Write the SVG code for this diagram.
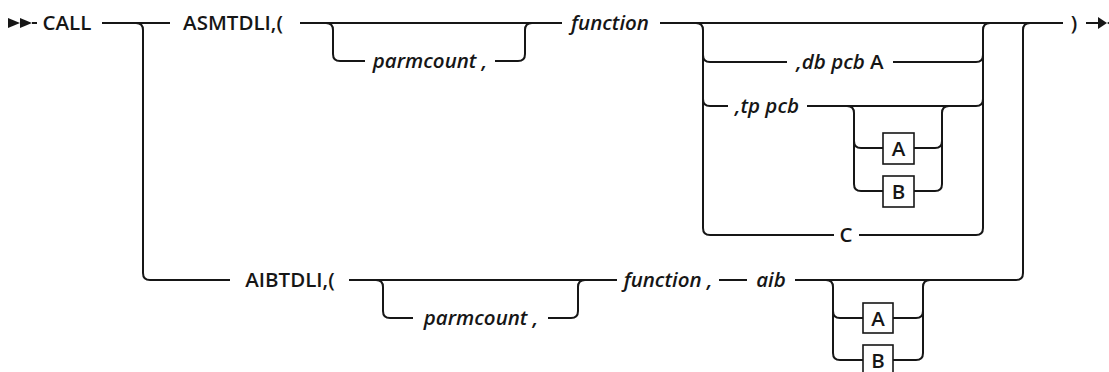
<svg xmlns="http://www.w3.org/2000/svg" width="1109" height="372" viewBox="0 0 1109 372">
<style>
.t{font-family:"Open Sans","Liberation Sans",sans-serif;font-size:20.5px;font-weight:600;fill:#161616;text-anchor:middle}
.i{font-style:italic}
.n{font-style:normal}
.c path{fill:none;stroke:#161616;stroke-width:2}
.box{fill:#fff;stroke:#161616;stroke-width:1.6}
.mk{fill:#161616}
</style>
<rect width="1109" height="372" fill="#fff"/>
<g id="connectors" class="c">
<path d="M32,23 L37,23"/>
<path d="M102,23 L170,23"/>
<path d="M300,23 L562,23"/>
<path d="M660,23 L1063,23"/>
<path d="M1086,23 L1099,23"/>
<path d="M136,23 Q143,23 143,30 L143,273 Q143,280 150,280 L230,280"/>
<path d="M1016,280 Q1023,280 1023,273 L1023,30 Q1023,23 1030,23"/>
<path d="M326,23 Q333,23 333,30 L333,54 Q333,61 340,61 L365,61"/>
<path d="M495,61 L518,61 Q525,61 525,54 L525,30 Q525,23 532,23"/>
<path d="M696,23 Q703,23 703,30 L703,228 Q703,235 710,235 L834,235"/>
<path d="M703,55 Q703,62 710,62 L787,62"/>
<path d="M703,99 Q703,106 710,106 L728,106"/>
<path d="M859,235 L976,235 Q983,235 983,228 L983,30 Q983,23 990,23"/>
<path d="M893,62 L976,62 Q983,62 983,55"/>
<path d="M807,106 L976,106 Q983,106 983,99"/>
<path d="M847,106 Q854,106 854,113 L854,184 Q854,191 861,191 L883,191"/>
<path d="M854,141 Q854,148 861,148 L883,148"/>
<path d="M914,191 L935,191 Q942,191 942,184 L942,113 Q942,106 949,106"/>
<path d="M914,148 L935,148 Q942,148 942,141"/>
<path d="M349,280 L617,280"/>
<path d="M719,280 L747,280"/>
<path d="M795,280 L1016,280"/>
<path d="M376,280 Q383,280 383,287 L383,311 Q383,318 390,318 L413,318"/>
<path d="M548,318 L571,318 Q578,318 578,311 L578,287 Q578,280 585,280"/>
<path d="M826,280 Q833,280 833,287 L833,353 Q833,360 840,360 L863,360"/>
<path d="M833,311 Q833,318 840,318 L863,318"/>
<path d="M893,360 L916,360 Q923,360 923,353 L923,287 Q923,280 930,280"/>
<path d="M893,318 L916,318 Q923,318 923,311"/>
</g>
<g id="start"><polygon class="mk" points="8,18 20,23 8,28"/><polygon class="mk" points="20,18 32,23 20,28"/></g>
<g id="end"><polygon class="mk" points="1098,17 1107,23 1098,29"/><polygon class="mk" points="1116,17 1107,23 1116,29"/></g>
<g id="call"><text class="t" x="67" y="30">CALL</text></g>
<g id="asmtdli"><text class="t" x="233" y="30">ASMTDLI,(</text></g>
<g id="parmcount1"><text class="t i" x="430" y="68">parmcount ,</text></g>
<g id="function1"><text class="t i" x="610" y="30">function</text></g>
<g id="dbpcb"><text class="t" x="840" y="69"><tspan class="i">,db pcb</tspan><tspan class="n"> A</tspan></text></g>
<g id="tppcb"><text class="t i" x="767" y="113">,tp pcb</text></g>
<g id="tpA"><rect class="box" x="883" y="133" width="31" height="31"/><text class="t" x="898.5" y="156">A</text></g>
<g id="tpB"><rect class="box" x="883" y="176" width="31" height="31"/><text class="t" x="898.5" y="199">B</text></g>
<g id="c"><text class="t" x="846" y="242">C</text></g>
<g id="close"><text class="t" x="1074" y="30">)</text></g>
<g id="aibtdli"><text class="t" x="290" y="287">AIBTDLI,(</text></g>
<g id="parmcount2"><text class="t i" x="481" y="325">parmcount ,</text></g>
<g id="function2"><text class="t i" x="668" y="287">function ,</text></g>
<g id="aib"><text class="t i" x="771" y="287">aib</text></g>
<g id="aibA"><rect class="box" x="863" y="303" width="30" height="30"/><text class="t" x="878" y="326">A</text></g>
<g id="aibB"><rect class="box" x="863" y="345" width="30" height="30"/><text class="t" x="878" y="368">B</text></g>
</svg>
